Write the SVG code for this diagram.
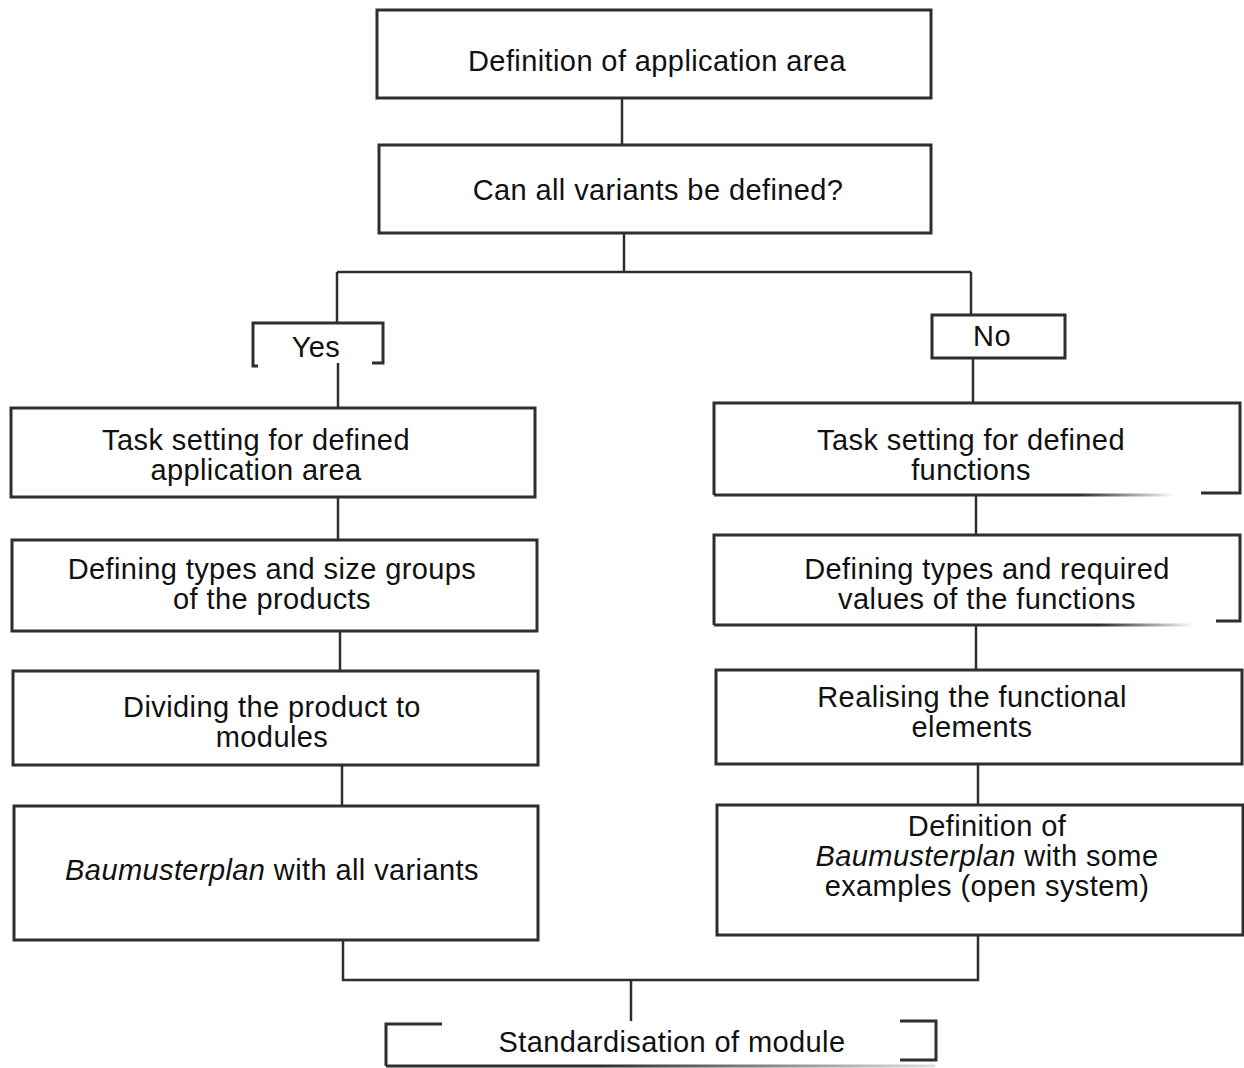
<svg xmlns="http://www.w3.org/2000/svg" width="1244" height="1068" viewBox="0 0 1244 1068">
  <style>
    .box { fill: none; stroke: #2e2e2e; stroke-width: 3; stroke-linejoin: miter; }
    .edge { fill: none; stroke: #2e2e2e; stroke-width: 2.5; }
    .label { font-family: "Liberation Sans", Arial, sans-serif; font-size: 29px; fill: #111; text-anchor: middle; letter-spacing: 0.4px; }
    .it { font-style: italic; }
  </style>
  <defs>
    <linearGradient id="fadeR1" gradientUnits="userSpaceOnUse" x1="1080" y1="0" x2="1175" y2="0">
      <stop offset="0" stop-color="#2e2e2e"/>
      <stop offset="1" stop-color="#2e2e2e" stop-opacity="0"/>
    </linearGradient>
    <linearGradient id="fadeR2" gradientUnits="userSpaceOnUse" x1="1100" y1="0" x2="1195" y2="0">
      <stop offset="0" stop-color="#2e2e2e"/>
      <stop offset="1" stop-color="#2e2e2e" stop-opacity="0"/>
    </linearGradient>
    <linearGradient id="fadeBottom" gradientUnits="userSpaceOnUse" x1="600" y1="0" x2="935" y2="0">
      <stop offset="0" stop-color="#2e2e2e"/>
      <stop offset="1" stop-color="#2e2e2e" stop-opacity="0.15"/>
    </linearGradient>
  </defs>
  <rect width="1244" height="1068" fill="#ffffff"/>

  <!-- connectors -->
  <g id="connectors">
    <path class="edge" d="M622 98 V145"/>
    <path class="edge" d="M624 233 V272 M337 272 H971 M337 272 V323 M971 272 V315"/>
    <path class="edge" d="M338 363 V408"/>
    <path class="edge" d="M973 358 V403"/>
    <path class="edge" d="M338 497 V540"/>
    <path class="edge" d="M340 631 V671"/>
    <path class="edge" d="M342 765 V806"/>
    <path class="edge" d="M976 495 V535"/>
    <path class="edge" d="M976 624 V670"/>
    <path class="edge" d="M978 764 V805"/>
    <path class="edge" d="M343 940 V980 H978 V935"/>
    <path class="edge" d="M631 980 V1021"/>
  </g>

  <!-- top: application area -->
  <g id="n-area">
    <rect class="box" x="377" y="10" width="554" height="88"/>
    <text class="label" x="657" y="71">Definition of application area</text>
  </g>

  <g id="n-question">
    <rect class="box" x="379" y="145" width="552" height="88"/>
    <text class="label" x="658" y="200">Can all variants be defined?</text>
  </g>

  <!-- branch labels -->
  <g id="n-yes">
    <path class="box" d="M258 366 H253 V323 H383 V363 H372"/>
    <text class="label" x="316" y="357">Yes</text>
  </g>

  <g id="n-no">
    <rect class="box" x="932" y="315" width="133" height="43"/>
    <text class="label" x="992" y="346">No</text>
  </g>

  <!-- left column: all variants defined -->
  <g id="n-task-area">
    <rect class="box" x="11" y="408" width="524" height="89"/>
    <text class="label" x="256" y="450">Task setting for defined</text>
    <text class="label" x="256" y="480">application area</text>
  </g>

  <g id="n-types-size">
    <rect class="box" x="12" y="540" width="525" height="91"/>
    <text class="label" x="272" y="579">Defining types and size groups</text>
    <text class="label" x="272" y="609">of the products</text>
  </g>

  <g id="n-dividing">
    <rect class="box" x="13" y="671" width="525" height="94"/>
    <text class="label" x="272" y="717">Dividing the product to</text>
    <text class="label" x="272" y="747">modules</text>
  </g>

  <g id="n-plan-all">
    <rect class="box" x="14" y="806" width="524" height="134"/>
    <text class="label" x="272" y="880"><tspan class="it">Baumusterplan</tspan> with all variants</text>
  </g>

  <!-- right column: open system -->
  <g id="n-task-functions">
    <path class="box" d="M1201 493 H1240 V403 H714 V495"/>
    <path d="M714 495 H1175" fill="none" stroke="url(#fadeR1)" stroke-width="3"/>
    <text class="label" x="971" y="450">Task setting for defined</text>
    <text class="label" x="971" y="480">functions</text>
  </g>

  <g id="n-types-values">
    <path class="box" d="M1216 621 H1240 V535 H714 V625"/>
    <path d="M714 625 H1195" fill="none" stroke="url(#fadeR2)" stroke-width="3"/>
    <text class="label" x="987" y="579">Defining types and required</text>
    <text class="label" x="987" y="609">values of the functions</text>
  </g>

  <g id="n-realising">
    <rect class="box" x="716" y="670" width="526" height="94"/>
    <text class="label" x="972" y="707">Realising the functional</text>
    <text class="label" x="972" y="737">elements</text>
  </g>

  <g id="n-plan-some">
    <rect class="box" x="717" y="805" width="526" height="130"/>
    <text class="label" x="987" y="836">Definition of</text>
    <text class="label" x="987" y="866"><tspan class="it">Baumusterplan</tspan> with some</text>
    <text class="label" x="987" y="896">examples (open system)</text>
  </g>

  <!-- result -->
  <g id="n-standardisation">
    <path class="box" d="M442 1024 H386 V1066"/>
    <path d="M386 1066 H935" fill="none" stroke="url(#fadeBottom)" stroke-width="3"/>
    <path class="box" d="M900 1021 H936 V1060 H900"/>
    <text class="label" x="672" y="1052">Standardisation of module</text>
  </g>
</svg>
